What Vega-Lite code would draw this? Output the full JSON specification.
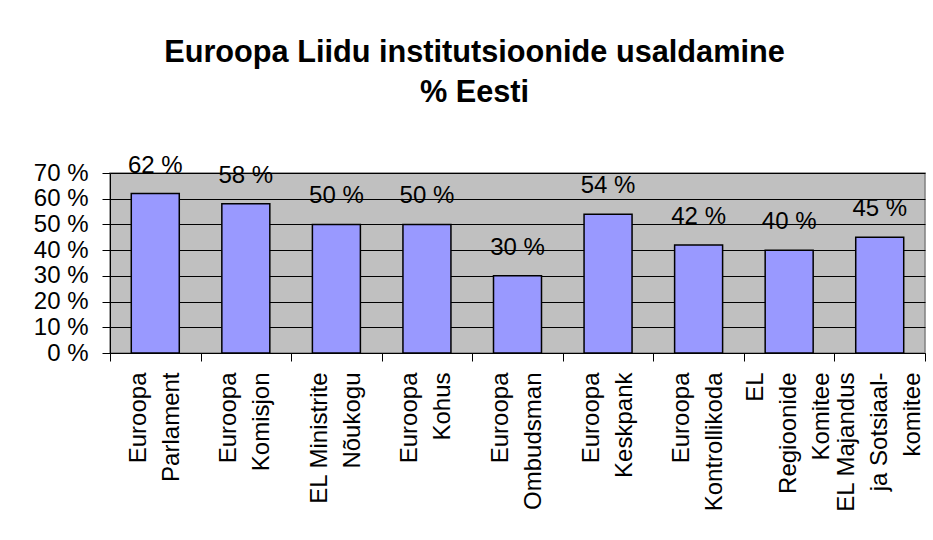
{
  "$schema": "https://vega.github.io/schema/vega-lite/v6.json",
  "autosize": "none",
  "width": 815,
  "height": 180,
  "padding": {"left": 110, "top": 173, "right": 8, "bottom": 187},
  "background": "white",
  "title": {
    "text": ["Euroopa Liidu institutsioonide usaldamine", "% Eesti"],
    "font": "Liberation Sans",
    "fontSize": 30.7,
    "fontWeight": "bold",
    "color": "black",
    "lineHeight": 40,
    "anchor": "middle",
    "frame": "group",
    "dx": -43,
    "offset": 45
  },
  "data": {
    "values": [
      {"inst": "Euroopa|Parlament", "pct": 62, "label": "62 %"},
      {"inst": "Euroopa|Komisjon", "pct": 58, "label": "58 %"},
      {"inst": "EL Ministrite|Nõukogu", "pct": 50, "label": "50 %"},
      {"inst": "Euroopa|Kohus", "pct": 50, "label": "50 %"},
      {"inst": "Euroopa|Ombudsman", "pct": 30, "label": "30 %"},
      {"inst": "Euroopa|Keskpank", "pct": 54, "label": "54 %"},
      {"inst": "Euroopa|Kontrollikoda", "pct": 42, "label": "42 %"},
      {"inst": "EL|Regioonide|Komitee", "pct": 40, "label": "40 %"},
      {"inst": "EL Majandus|ja Sotsiaal-|komitee", "pct": 45, "label": "45 %"}
    ]
  },
  "encoding": {
    "y": {
      "field": "pct",
      "type": "quantitative",
      "title": null,
      "scale": {"domain": [0, 70], "nice": false},
      "axis": {
        "values": [0, 10, 20, 30, 40, 50, 60, 70],
        "labelExpr": "datum.value + ' %'",
        "labelFont": "Liberation Sans",
        "labelFontSize": 24,
        "labelColor": "black",
        "labelPadding": 14,
        "labelOverlap": false,
        "labelBaseline": "middle",
        "tickSize": 8,
        "tickColor": "black",
        "domainColor": "black",
        "grid": true,
        "gridColor": "black",
        "gridWidth": 1,
        "gridOpacity": 1
      }
    }
  },
  "layer": [
    {
      "mark": {"type": "bar", "fill": "#9999FF", "stroke": "black", "strokeWidth": 1.5, "width": {"band": 0.53}},
      "encoding": {
        "x": {
          "field": "inst",
          "type": "nominal",
          "sort": null,
          "title": null,
          "scale": {"paddingInner": 0, "paddingOuter": 0},
          "axis": {
            "orient": "bottom",
            "labelExpr": "split(datum.value, '|')",
            "labelAngle": -90,
            "labelAlign": "right",
            "labelBaseline": "middle",
            "labelLineHeight": 33,
            "labelOffset": {"condition": {"test": "length(split(datum.value, '|')) > 2", "value": -33}, "value": -16.5},
            "labelFont": "Liberation Sans",
            "labelFontSize": 24,
            "labelColor": "black",
            "labelPadding": 19,
            "labelLimit": 300,
            "ticks": false,
            "domainColor": "black",
            "domainWidth": 1,
            "grid": false
          }
        }
      }
    },
    {
      "mark": {
        "type": "text",
        "font": "Liberation Sans",
        "fontSize": 24,
        "color": "black",
        "baseline": "middle",
        "align": "center",
        "dy": -28
      },
      "encoding": {
        "x": {
          "field": "inst",
          "type": "nominal",
          "sort": null,
          "title": null,
          "scale": {"paddingInner": 0, "paddingOuter": 0},
          "axis": {
            "orient": "bottom",
            "labels": false,
            "tickBand": "extent",
            "tickSize": 8,
            "tickColor": "black",
            "domain": false,
            "grid": false
          }
        },
        "text": {"field": "label", "type": "nominal"}
      }
    }
  ],
  "resolve": {"axis": {"x": "independent"}},
  "config": {
    "view": {"fill": "#C0C0C0", "stroke": "#808080", "strokeWidth": 1.5}
  }
}
